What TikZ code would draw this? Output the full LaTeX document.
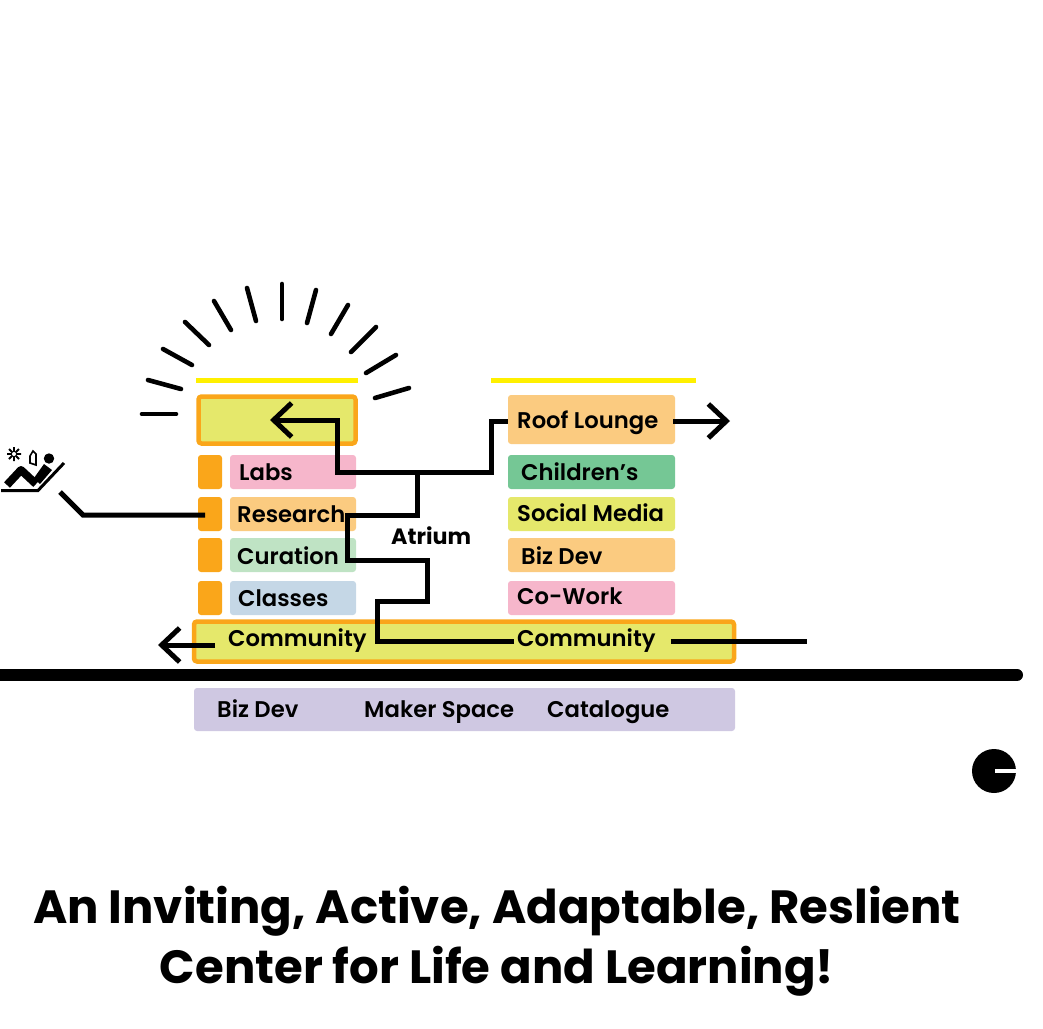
\documentclass[tikz,border=0pt]{standalone}
\usepackage{fontspec}
\setmainfont{Poppins}[BoldFont={Poppins SemiBold}]
\newfontfamily\headfont{Poppins Bold}
\usepackage{tikz}
\usetikzlibrary{arrows.meta,calc,positioning}
\definecolor{hubyellow}{RGB}{229,232,107}
\definecolor{huborange}{RGB}{250,166,26}
\definecolor{hubline}{RGB}{255,240,0}
\definecolor{hubpink}{RGB}{246,182,203}
\definecolor{hubpeach}{RGB}{251,203,128}
\definecolor{hubmint}{RGB}{191,227,196}
\definecolor{hubsky}{RGB}{197,215,230}
\definecolor{hubgreen}{RGB}{117,199,149}
\definecolor{hublilac}{RGB}{207,200,226}
\tikzset{
    floorbox/.style={rounded corners=3pt, inner sep=0pt, outer sep=0pt},
    roomtab/.style={floorbox, fill=huborange, minimum width=24pt, minimum height=34pt},
    roomleft/.style={floorbox, minimum width=126pt, minimum height=34pt},
    roomright/.style={floorbox, minimum width=167pt, minimum height=34pt},
    hallbox/.style={floorbox, fill=hubyellow, draw=huborange, line width=4.5pt},
    roomtext/.style={anchor=base west, font=\bfseries\fontsize{22.7}{26}\selectfont, inner sep=3pt, text height=17pt, text depth=5pt},
    route/.style={line width=5pt, line join=miter},
    routetip/.style={route, -{Straight Barb[length=18pt, width=34pt, line width=5pt]}},
    ray/.style={line width=4.6pt, line cap=round}
}
\begin{document}
\begin{tikzpicture}[x=1pt, y=-1pt]
    \useasboundingbox (0,0) rectangle (1043,1028);
    \foreach \xa/\ya/\xb/\yb in {142/414/176/414, 148/380/181/389, 163/349/192/365, 185/322/209/345, 214/301/231/330, 247/288/256/321, 282/284/282/319, 316/290/307/323, 348/305/331/334, 376/327/351/352, 396/355/366/373, 409/388/375/398}
        \draw[ray] (\xa,\ya) -- (\xb,\yb);
    \draw[hubline, line width=5pt] (196,380) -- (358,380);
    \draw[hubline, line width=5pt] (491,380) -- (696,380);
    \node[hallbox, minimum width=157pt, minimum height=47pt] (topbox) at (277,420) {};
    \node[floorbox, fill=hubpeach, minimum width=167pt, minimum height=49pt] (roofbox) at (591.5,419.5) {};
    \foreach \nm/\ty/\col in {labs/472/hubpink, research/514/hubpeach, curation/555/hubmint, classes/598/hubsky} {
        \node[roomtab] (\nm tab) at (210,\ty) {};
        \node[roomleft, fill=\col] (\nm box) at (293,\ty) {};
    }
    \foreach \nm/\ty/\col in {children/472/hubgreen, social/514/hubyellow, bizdevr/555/hubpeach, cowork/598/hubpink}
        \node[roomright, fill=\col] (\nm box) at (591.5,\ty) {};
    \node[hallbox, minimum width=540pt, minimum height=40pt] (hallbox) at (464,641.5) {};
    \draw[line width=12pt, line cap=round] (0,675) -- (1017,675);
    \node[floorbox, fill=hublilac, minimum width=541pt, minimum height=43pt] (basement) at (464.5,709.5) {};
    \node[roomtext] (labs) at (236,480) {Labs};
    \node[roomtext] (research) at (234,522) {Research};
    \node[roomtext] (curation) at (234,564) {Curation};
    \node[roomtext] (classes) at (235,606) {Classes};
    \node[roomtext] (commleft) at (225,646) {Community};
    \node[roomtext] (commright) at (514,646) {Community};
    \node[roomtext] (roof) at (514,428) {Roof Lounge};
    \node[roomtext] (children) at (518,480) {Children’s};
    \node[roomtext] (social) at (514,521) {Social Media};
    \node[roomtext] (bizdevr) at (518,564) {Biz Dev};
    \node[roomtext] (cowork) at (514,604) {Co-Work};
    \node[roomtext, font=\headfont\fontsize{22.2}{26}\selectfont] (atrium) at (388,544) {Atrium};
    \node[roomtext] (bizdev) at (214,717) {Biz Dev};
    \node[roomtext] (maker) at (361,717) {Maker Space};
    \node[roomtext] (catalogue) at (544,717) {Catalogue};
    \coordinate (streetin) at (807,641);
    \coordinate (streetout) at (158,645);
    \coordinate (roofout) at (730,421);
    \coordinate (loungeend) at (60,492);
    \coordinate (loungebend) at (83,515);
    \draw[routetip] ([xshift=-10pt]commleft.west |- streetout) -- (streetout);
    \draw[route] ([xshift=12pt]commright.east |- streetin) -- (streetin);
    \draw[routetip] ([xshift=12pt]roof.east |- roofout) -- (roofout);
    \draw[route] (loungeend) -- (loungebend) -- ([xshift=-5pt]researchtab.center |- loungebend);
    \draw[routetip] (commright.west |- streetin) -| (377,601) -| (427,560) -| (347,515) -| (417,472) -| (337,420) -- ([xshift=-7pt]topbox.center);
    \draw[route] (417,472) -| (491,421) -- (roofbox.west |- roofout);
    \draw[line width=3pt] (1,490.5) -- (38,490.5) -- (64,463);
    \draw[line width=8pt, line join=round] (7,485) -- (21,470) -- (36,484);
    \fill (34,478) -- (44,464) -- (52,470) -- (40,484) -- cycle;
    \fill (49,458.5) circle (5.2pt);
    \draw[line width=1.6pt, fill=white] (30,456) -- (33,451) -- (36,454) -- (36,465) -- (30,463) -- cycle;
    \draw[line width=1.8pt] (14,447) -- (14,461) (7,454) -- (21,454) (9,449) -- (19,459) (9,459) -- (19,449);
    \fill[white] (14,454) circle (2pt);
    \fill (994,771) circle (22pt);
    \fill[white] (995,768.5) rectangle (1018,773);
    \node[font=\headfont\fontsize{46.6}{60}\selectfont, align=center] (title) at (497,941) {An Inviting, Active, Adaptable, Reslient\\Center for Life and Learning!};
\end{tikzpicture}
\end{document}
